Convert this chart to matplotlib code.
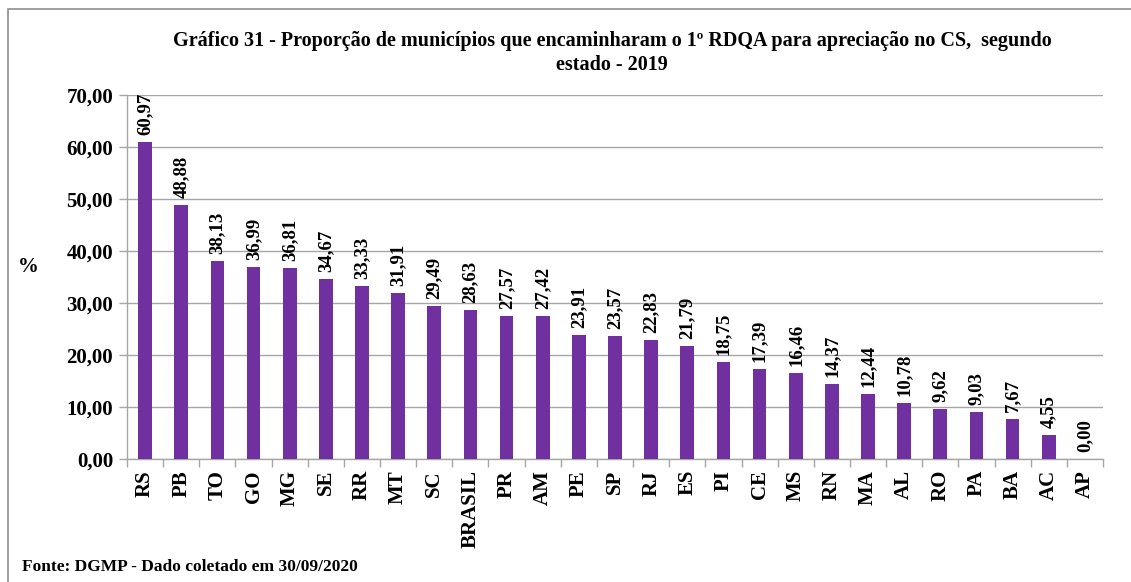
import matplotlib
matplotlib.use("Agg")
import matplotlib.pyplot as plt
import matplotlib.patches as mpatches
from matplotlib.ticker import FuncFormatter, FixedLocator

# data
estados = ["RS", "PB", "TO", "GO", "MG", "SE", "RR", "MT", "SC", "BRASIL", "PR", "AM", "PE",
           "SP", "RJ", "ES", "PI", "CE", "MS", "RN", "MA", "AL", "RO", "PA", "BA", "AC", "AP"]
proporcao = [60.97, 48.88, 38.13, 36.99, 36.81, 34.67, 33.33, 31.91, 29.49, 28.63, 27.57, 27.42,
             23.91, 23.57, 22.83, 21.79, 18.75, 17.39, 16.46, 14.37, 12.44, 10.78, 9.62, 9.03,
             7.67, 4.55, 0.00]
yticks = [0, 10, 20, 30, 40, 50, 60, 70]

titulo = ("Gráfico 31 - Proporção de municípios que encaminharam o 1º RDQA para apreciação no CS,  segundo\n"
          "estado - 2019")
fonte = "Fonte: DGMP - Dado coletado em 30/09/2020"

plt.rcParams['font.family'] = ['Liberation Serif', 'DejaVu Serif']
plt.rcParams['font.weight'] = 'bold'

cor_barra = '#7030A0'
cor_grade = '#A6A6A6'

figure = plt.figure(figsize=(11.31, 5.82), dpi=100)
axes = figure.add_axes([127/1131, 1 - 459/582, (1103 - 127)/1131, (459 - 95)/582])

# figure border (left and top visible)
figure.add_artist(mpatches.Rectangle((8/1131, -0.1), 1.2, (1 - 9/582) + 0.1,
                                     transform=figure.transFigure, fill=False,
                                     edgecolor='#8C8C8C', linewidth=1.2))

x = list(range(len(estados)))
barras = axes.bar(x, proporcao, width=0.38, color=cor_barra, zorder=3)

# value labels above bars
for xi, v in zip(x, proporcao):
    axes.annotate(f"{v:.2f}".replace('.', ','), xy=(xi, v), xytext=(0, 5),
                  textcoords='offset points', rotation=90, ha='center', va='bottom',
                  fontsize=13.5, fontweight='bold', color='black')

axes.set_xlim(-0.5, len(estados) - 0.5)
axes.set_ylim(0, 70)
axes.set_yticks(yticks)
axes.yaxis.set_major_formatter(FuncFormatter(lambda v, p: f"{v:.2f}".replace('.', ',')))
axes.yaxis.grid(True, color=cor_grade, linewidth=1, zorder=0)

axes.set_xticks(x)
axes.set_xticklabels(estados, rotation=90, fontsize=15, fontweight='bold')
axes.xaxis.set_minor_locator(FixedLocator([i - 0.5 for i in range(len(estados) + 1)]))
axes.tick_params(axis='x', which='major', length=0, pad=8)
axes.tick_params(axis='x', which='minor', length=6, color=cor_grade, width=1)
axes.tick_params(axis='y', length=6, color=cor_grade, width=1, pad=4, labelsize=15)
for lbl in axes.get_yticklabels():
    lbl.set_fontweight('bold')

for lado in ['top', 'right']:
    axes.spines[lado].set_visible(False)
for lado in ['left', 'bottom']:
    axes.spines[lado].set_color(cor_grade)
    axes.spines[lado].set_linewidth(1)

figure.text(612/1131, 1 - 53/582, titulo, ha='center', va='center', fontsize=14.5,
            fontweight='bold', linespacing=1.25)
figure.text(28/1131, 1 - 267/582, "%", ha='center', va='center', fontsize=15, fontweight='bold')
figure.text(22/1131, 1 - 567/582, fonte, ha='left', va='center', fontsize=12.5, fontweight='bold')

figure.savefig("out.png", dpi=100, facecolor='white')
